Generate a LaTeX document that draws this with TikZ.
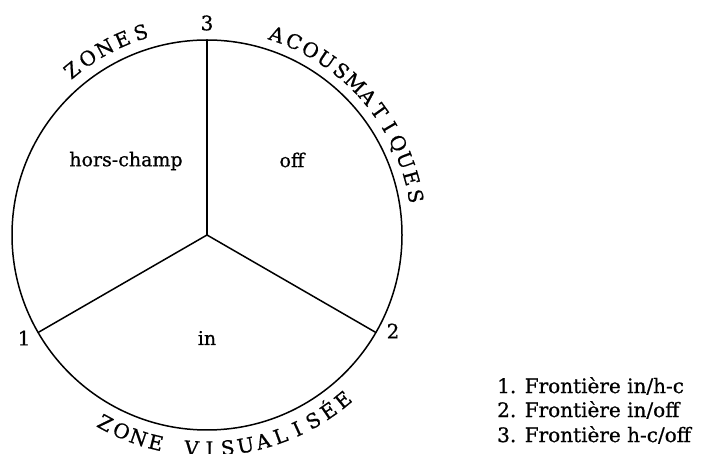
\documentclass[tikz,border=0pt]{standalone}
\usepackage{fontspec}
\setmainfont{DejaVu Serif}[FakeBold=0.7]
\usetikzlibrary{calc,positioning}
\tikzset{
    myedge/.style={line width=1.5pt,draw=black},
    myzone/.style={font=\fontsize{19}{19}\selectfont,inner sep=0pt},
    mynum/.style={font=\fontsize{20}{20}\selectfont,inner sep=0pt},
    myletter/.style={font=\fontsize{20}{20}\selectfont,inner sep=0pt,text height=14pt,text depth=0pt},
    mylegend/.style={font=\fontsize{20}{20}\selectfont,anchor=west,inner sep=0pt}
}

\begin{document}
\begin{tikzpicture}[x=1pt,y=1pt]
  \useasboundingbox (0,0) rectangle (706,454);
  \coordinate (O) at (207,219);
  \coordinate (P1) at ($(O)+(210:195pt)$);
  \coordinate (P2) at ($(O)+(330:195pt)$);
  \coordinate (P3) at ($(O)+(90:195pt)$);

  \draw[myedge] (O) circle[radius=195pt];
  \foreach \P in {P1,P2,P3}{\draw[myedge] (O)--(\P);}

  \node[mynum] (n3) at (207,431) {3};
  \node[mynum] (n1) at (24,116) {1};
  \node[mynum] (n2) at (393,123) {2};

  \node[myzone] (hc)  at (126,293) {hors-champ};
  \node[myzone] (off) at (292,294) {off};
  \node[myzone] (in)  at (207,116) {in};

  % lettres autour du cercle
  \foreach \ch [count=\i] in {Z,O,N,E,S}{
    \pgfmathsetmacro{\a}{129.3-(\i-1)*5.3}
    \node[myletter,rotate=\a-90] (za\i) at ($(O)+(\a:213pt)$) {\ch};
  }
  \foreach \ch [count=\i] in {A,C,O,U,S,M,A,T,I,Q,U,E,S}{
    \pgfmathsetmacro{\a}{70.8-(\i-1)*5.02}
    \node[myletter,rotate=\a-90] (ac\i) at ($(O)+(\a:212pt)$) {\ch};
  }
  \foreach \ch [count=\i] in {Z,O,N,E,{},V,I,S,U,A,L,I,S,É,E}{
    \pgfmathsetmacro{\a}{241.6+(\i-1)*4.85}
    \node[myletter,rotate=\a+90] (zv\i) at ($(O)+(\a:214pt)$) {\ch};
  }

  \node[mylegend] (l1) at (497,68) {1. Frontière in/h-c};
  \node[mylegend] (l2) at (497,44) {2. Frontière in/off};
  \node[mylegend] (l3) at (497,19) {3. Frontière h-c/off};
\end{tikzpicture}
\end{document}
